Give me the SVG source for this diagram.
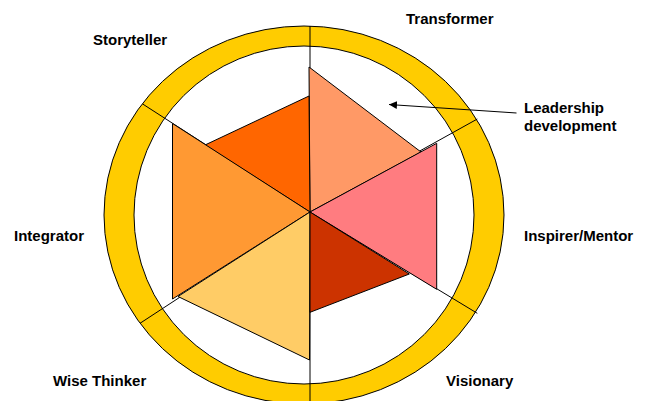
<svg xmlns="http://www.w3.org/2000/svg" width="645" height="401" viewBox="0 0 645 401">
<style>
.lbl{font-family:"Liberation Sans",Arial,sans-serif;font-weight:bold;font-size:15px;fill:#000}
.sh{stroke:#000;stroke-width:1;stroke-linejoin:round}
.div{stroke:#000;stroke-width:1;fill:none}
</style>
<defs>
<marker id="ah" viewBox="0 0 10 10" refX="10" refY="5" markerWidth="8" markerHeight="8" markerUnits="userSpaceOnUse" orient="auto">
<path d="M0,0 L10,5 L0,10 z" fill="#000"/>
</marker>
</defs>
<rect width="645" height="401" fill="#fff"/>
<g id="ring">
<ellipse cx="304" cy="215" rx="200" ry="189" fill="#FFCC00" stroke="#000" stroke-width="1"/>
<ellipse cx="304" cy="215" rx="170" ry="169" fill="#fff" stroke="#000" stroke-width="1"/>
</g>
<g id="connectors">
<line class="div" x1="310" y1="212" x2="310" y2="26"/>
<line class="div" x1="310" y1="212" x2="310" y2="401"/>
<line class="div" x1="310" y1="212" x2="142.7" y2="104"/>
<line class="div" x1="310" y1="212" x2="140" y2="323.3"/>
<line class="div" x1="310" y1="212" x2="477.3" y2="313.3"/>
<line class="div" x1="310" y1="212" x2="477.3" y2="119"/>
<line class="div" x1="516.5" y1="113" x2="389" y2="104.5" marker-end="url(#ah)"/>
</g>
<g id="node-transformer-area"><polygon class="sh" fill="#FF9966" points="309,67 421,152 310,212"/></g>
<g id="node-storyteller-area"><polygon class="sh" fill="#FF6600" points="309,96 205,145 310,212"/></g>
<g id="node-integrator-area"><polygon class="sh" fill="#FF9933" points="172.5,123.5 172.5,299 310,212"/></g>
<g id="node-wisethinker-area"><polygon class="sh" fill="#FFCC66" points="178,296.5 309.5,360 310,212"/></g>
<g id="node-inspirer-area"><polygon class="sh" fill="#FF7C80" points="310,212 436.7,143.3 436.7,289.3"/></g>
<g id="node-visionary-area"><polygon class="sh" fill="#CC3300" points="310,212 409.3,274 310,312.3"/></g>
<g id="node-transformer"><text class="lbl" x="406" y="24">Transformer</text></g>
<g id="node-storyteller"><text class="lbl" x="93" y="45">Storyteller</text></g>
<g id="node-leadership"><text class="lbl" x="524" y="113">Leadership</text><text class="lbl" x="524" y="131">development</text></g>
<g id="node-integrator"><text class="lbl" x="14" y="241">Integrator</text></g>
<g id="node-inspirer"><text class="lbl" x="524" y="241">Inspirer/Mentor</text></g>
<g id="node-wisethinker"><text class="lbl" x="53" y="386">Wise Thinker</text></g>
<g id="node-visionary"><text class="lbl" x="446" y="386">Visionary</text></g>
</svg>
